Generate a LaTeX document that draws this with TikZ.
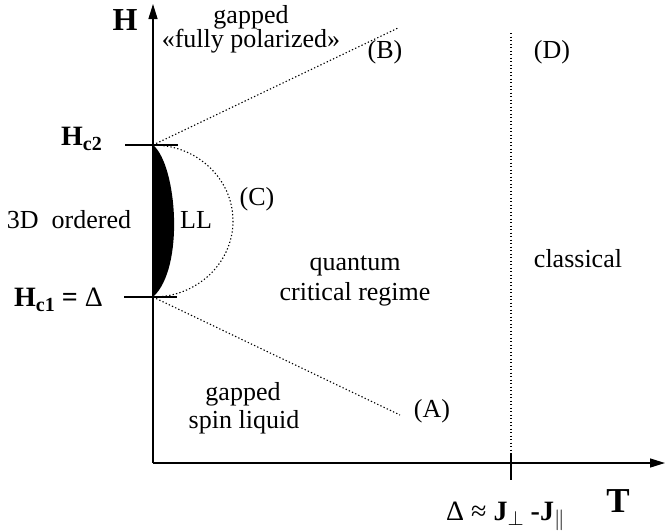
\documentclass[tikz,border=0pt]{standalone}
\usepackage{fontspec}
\setmainfont{Liberation Serif}
\usetikzlibrary{arrows.meta}
\begin{document}
\begin{tikzpicture}[x=1pt,y=-1pt,
  axis/.style={line width=1.4pt, -{Triangle[length=15pt,width=9pt]}},
  tickline/.style={line width=1.5pt},
  bound/.style={line width=1.1pt, dash pattern=on 1.3pt off 2.2pt},
  lab/.style={font=\fontsize{26}{30}\selectfont, inner sep=0pt, anchor=base},
  blab/.style={font=\fontsize{28}{30}\selectfont\bfseries, inner sep=0pt, anchor=base west},
]
\useasboundingbox (0,0) rectangle (665,531);
% key points
\coordinate (O) at (153,463);
\coordinate (Htop) at (153,4);
\coordinate (Tend) at (665,463);
\coordinate (C2) at (153,145);
\coordinate (C1) at (153,297);
\coordinate (C2l) at (125,145);
\coordinate (C2r) at (178,145);
\coordinate (C1l) at (124,297);
\coordinate (C1r) at (177,297);
\coordinate (Bend) at (398,28);
\coordinate (Aend) at (400,415);
\coordinate (Dtop) at (511,33);
\coordinate (Dbot) at (511,453);
\coordinate (Tk) at (511,480);

% LL region (black lens)
\fill[black] (C2) .. controls (177,165) and (185,268) .. (C1) -- cycle;

% axes
\draw[axis] (O) -- (Htop);
\draw[axis] (O) -- (Tend);
\draw[tickline] (C2l) -- (C2r);
\draw[tickline] (C1l) -- (C1r);
\draw[line width=1.2pt] (Dbot) -- (Tk);

% crossover lines
\draw[bound] (C2) -- (Bend);
\draw[bound] (C1) -- (Aend);
\draw[bound] (C2) arc[start angle=-90, end angle=90, x radius=80, y radius=76];
\draw[bound] (Dtop) -- (Dbot);

% labels
\node[font=\fontsize{32}{32}\selectfont\bfseries, inner sep=0pt, anchor=base] (lH) at (125,30) {H};
\node[font=\fontsize{35}{35}\selectfont\bfseries, inner sep=0pt, anchor=base] (lT) at (618,512) {T};
\node[lab] (g1) at (251,23) {gapped};
\node[lab] (fp) at (251,47) {«fully polarized»};
\node[lab] (lB) at (385,58) {(B)};
\node[lab] (lD) at (552,58) {(D)};
\node[lab] (lC) at (257,205) {(C)};
\node[lab] (lLL) at (196,228) {LL};
\node[lab] (o3d) at (69,228) {3D\ \ ordered};
\node[lab] (q1) at (355,270) {quantum};
\node[lab] (q2) at (355,300) {critical regime};
\node[lab] (cl) at (578,267) {classical};
\node[lab] (g2) at (243,400) {gapped};
\node[lab] (sl) at (244,428) {spin liquid};
\node[lab] (lA) at (432,417) {(A)};
\node[blab] (hc2) at (61,145) {H\raisebox{-5pt}{\fontsize{20}{20}\selectfont c2}};
\node[blab] (hc1) at (14,306) {H\raisebox{-5pt}{\fontsize{20}{20}\selectfont c1} = \mdseries Δ};
\node[blab] (gap) at (446,520) {\mdseries Δ ≈ \bfseries J\raisebox{-5pt}{$\scriptstyle\perp$} -J\raisebox{-5pt}{$\scriptstyle\parallel$}};
\end{tikzpicture}
\end{document}
